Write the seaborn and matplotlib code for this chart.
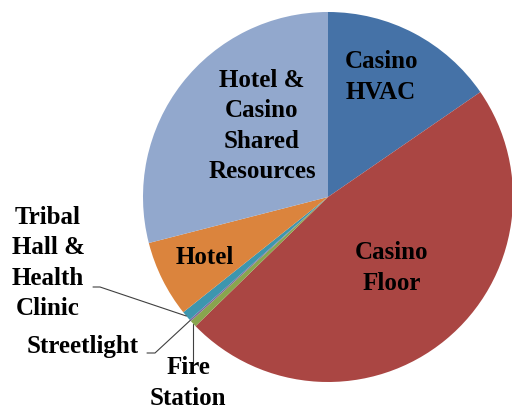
import numpy as np
import matplotlib.pyplot as plt
import seaborn as sns

# slice data, clockwise from 12 o'clock
names = ["Casino\nHVAC", "Casino\nFloor", "Fire\nStation", "Streetlight",
         "Tribal\nHall &\nHealth\nClinic", "Hotel",
         "Hotel &\nCasino\nShared\nResources"]
shares = [15.4, 47.3, 0.6, 0.15, 0.85, 6.7, 29.0]
colors = ["#4572A7", "#AA4643", "#89A54E", "#80699B", "#3D96AE", "#DB843D", "#92A8CD"]

sns.set_theme(style="white")
plt.rcParams['font.family'] = ['Liberation Serif', 'DejaVu Serif']

W, H = 512, 409
fig = plt.figure(figsize=(W / 100, H / 100), dpi=100)
ax = fig.add_axes([0, 0, 1, 1])

cx, cy, r = 328, H - 197, 185
wedges, _ = ax.pie(shares, colors=sns.color_palette(colors), startangle=90,
                   counterclock=False, center=(cx, cy), radius=r,
                   wedgeprops=dict(linewidth=0), frame=True)
ax.set_xlim(0, W)
ax.set_ylim(0, H)
ax.set_aspect('equal')
ax.axis('off')

fs = 18
kw = dict(fontsize=fs, fontweight='bold', ha='center', va='center',
          linespacing=1.42, color='black')

def img(x, y):
    return x, H - y

# labels inside slices
ax.text(*img(381, 77), names[0], **kw)
ax.text(*img(392, 268), names[1], **kw)
ax.text(*img(205, 257), names[5], **kw)
ax.text(*img(262, 126), names[6], **kw)

# outside labels for the tiny slices
ax.text(*img(48, 263), names[4], **kw)
ax.text(*img(83, 346), names[3], **kw)
ax.text(*img(188, 383), names[2], **kw)

def tip(w):
    a = np.deg2rad((w.theta1 + w.theta2) / 2)
    return cx + r * np.cos(a), cy + r * np.sin(a)

# leader lines
tx, ty = tip(wedges[4])
ax.plot([93, 100, tx], [H - 287, H - 287, ty], color='#404040', lw=0.8)
sx, sy = tip(wedges[3])
ax.plot([147, 155, sx], [H - 353, H - 353, sy], color='#404040', lw=0.8)
fx, fy = tip(wedges[2])
ax.plot([fx, fx], [fy, H - 363], color='#404040', lw=0.8)

fig.savefig('out.png', dpi=100)
